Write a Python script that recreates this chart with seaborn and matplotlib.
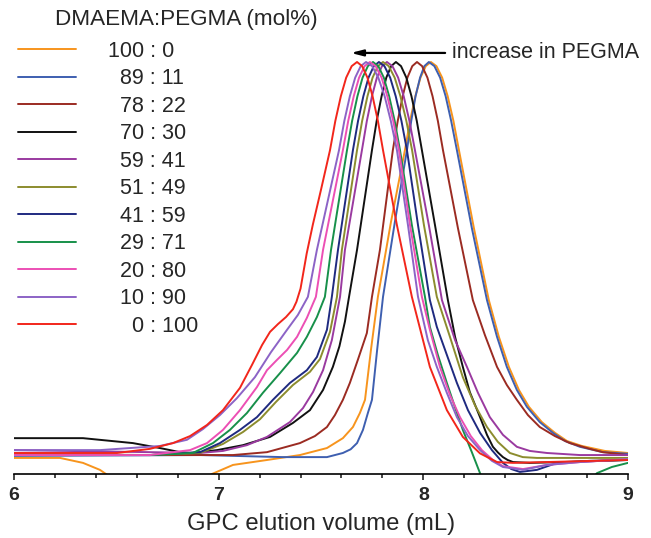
import numpy as np
import pandas as pd
import seaborn as sns
import matplotlib
matplotlib.use("Agg")
import matplotlib.pyplot as plt

# DMAEMA:PEGMA feed ratios (mol%) and GPC traces
ratios = ["100 : 0", "89 : 11", "78 : 22", "70 : 30", "59 : 41", "51 : 49",
          "41 : 59", "29 : 71", "20 : 80", "10 : 90", "0 : 100"]
colors = ["#f7941d", "#3e5fb0", "#9b2b22", "#111111", "#9a3aa0", "#8c8c2e",
          "#1f2a80", "#17904a", "#ec4fb4", "#8c63c6", "#f2261b"]

vol_100_0 = [6.0, 6.225, 6.337, 6.42, 6.493, 6.713, 6.884, 6.967, 7.07, 7.236, 7.397, 7.529, 7.607, 7.656, 7.69, 7.715,
             7.744, 7.778, 7.842, 7.91, 7.935, 7.961, 7.986, 8.012, 8.037, 8.064, 8.092, 8.119, 8.147, 8.174,
             8.247, 8.32, 8.369, 8.418, 8.467, 8.516, 8.579, 8.643, 8.702, 8.775, 8.887, 9.0]
int_100_0 = [.039, .039, .027, .010, -.015, -.063, -.034, .0, .022, .034, .046, .063, .087, .114, .148, .18,
             .301, .43, .612, .786, .857, .917, .962, .990, 1.0, .990, .962, .917, .857, .786,
             .597, .422, .333, .26, .204, .163, .126, .10, .08, .068, .056, .051]

vol_89_11 = [6.0, 6.909, 7.314, 7.529, 7.607, 7.645, 7.676, 7.705, 7.729, 7.749, 7.774, 7.803, 7.861, 7.92, 7.941,
             7.962, 7.984, 8.005, 8.027, 8.054, 8.082, 8.109, 8.136, 8.164, 8.237, 8.311, 8.36, 8.408, 8.457,
             8.506, 8.569, 8.633, 8.692, 8.765, 8.877, 9.0]
int_89_11 = [.044, .046, .041, .041, .051, .06, .075, .107, .148, .18, .30, .43, .612, .786, .857,
             .917, .962, .990, 1.0, .990, .962, .917, .857, .786, .597, .422, .333, .26, .204,
             .163, .126, .10, .08, .066, .053, .049]

vol_78_22 = [6.0, 6.909, 7.07, 7.236, 7.397, 7.47, 7.529, 7.568, 7.607, 7.641, 7.68, 7.724, 7.749, 7.788, 7.851,
             7.875, 7.899, 7.922, 7.946, 7.969, 7.994, 8.02, 8.045, 8.071, 8.096, 8.169, 8.242, 8.301, 8.36,
             8.408, 8.457, 8.511, 8.569, 8.643, 8.716, 8.814, 8.877, 9.0]
int_78_22 = [.046, .046, .046, .053, .075, .092, .114, .143, .18, .221, .277, .342, .43, .544, .786,
             .857, .917, .962, .990, 1.0, .990, .962, .917, .857, .786, .597, .422, .337, .26,
             .216, .18, .143, .114, .092, .075, .061, .053, .046]

vol_70_30 = [6.0, 6.337, 6.581, 6.713, 6.811, 6.86, 6.909, 6.992, 7.119, 7.251, 7.363, 7.446, 7.51, 7.558, 7.59,
             7.617, 7.637, 7.676, 7.749, 7.772, 7.796, 7.819, 7.843, 7.866, 7.891, 7.917, 7.942, 7.968, 7.993,
             8.057, 8.12, 8.155, 8.193, 8.227, 8.277, 8.311, 8.34, 8.365, 8.389, 8.412, 8.438, 8.52, 8.682, 9.0]
int_70_30 = [.087, .087, .075, .063, .053, .051, .053, .058, .07, .09, .124, .155, .204, .26, .31,
             .37, .43, .544, .786, .857, .917, .962, .990, 1.0, .990, .962, .917, .857, .786,
             .604, .422, .333, .26, .199, .138, .095, .066, .052, .041, .034, .029, .027, .029, .034]

vol_59_41 = [6.0, 6.664, 6.909, 7.021, 7.138, 7.236, 7.348, 7.412, 7.461, 7.51, 7.553, 7.593, 7.617, 7.70, 7.724,
             7.749, 7.773, 7.798, 7.822, 7.849, 7.877, 7.904, 7.932, 7.959, 8.027, 8.091, 8.155, 8.213, 8.267,
             8.325, 8.389, 8.457, 8.52, 8.604, 8.765, 9.0]
int_59_41 = [.058, .053, .051, .056, .07, .09, .126, .16, .199, .252, .325, .43, .544, .786, .857,
             .917, .962, .990, 1.0, .990, .962, .917, .857, .786, .604, .422, .325, .26, .197,
             .138, .095, .066, .056, .051, .046, .046]

vol_51_49 = [6.0, 6.664, 6.909, 7.021, 7.119, 7.202, 7.28, 7.363, 7.446, 7.495, 7.544, 7.578, 7.602, 7.676, 7.701,
             7.727, 7.752, 7.778, 7.803, 7.831, 7.86, 7.888, 7.917, 7.945, 8.003, 8.066, 8.13, 8.193, 8.252,
             8.311, 8.364, 8.423, 8.486, 8.555, 9.0]
int_51_49 = [.049, .046, .051, .073, .102, .133, .175, .216, .248, .279, .345, .43, .544, .786, .857,
             .917, .962, .990, 1.0, .990, .962, .917, .857, .786, .604, .43, .333, .235, .167,
             .114, .078, .051, .041, .039, .039]

vol_41_59 = [6.0, 6.664, 6.909, 7.006, 7.104, 7.187, 7.265, 7.348, 7.431, 7.48, 7.529, 7.553, 7.583, 7.656, 7.681,
             7.707, 7.732, 7.758, 7.783, 7.81, 7.838, 7.865, 7.893, 7.92, 7.974, 8.032, 8.066, 8.115, 8.164,
             8.218, 8.277, 8.335, 8.389, 8.43, 8.472, 8.555, 8.653, 8.814, 9.0]
int_41_59 = [.046, .046, .053, .075, .107, .138, .18, .221, .252, .284, .35, .43, .544, .786, .857,
             .917, .962, .990, 1.0, .990, .962, .917, .857, .786, .604, .422, .357, .289, .221,
             .155, .10, .058, .027, .012, .005, .01, .027, .032, .034]

vol_29_71 = [6.0, 6.664, 6.874, 6.972, 7.055, 7.138, 7.216, 7.30, 7.383, 7.431, 7.48, 7.519, 7.549, 7.627, 7.652,
             7.678, 7.703, 7.729, 7.754, 7.78, 7.807, 7.833, 7.86, 7.886, 7.944, 8.008, 8.032, 8.071, 8.115,
             8.154, 8.193, 8.237, 8.277, 8.325, 8.472, 8.667, 8.789, 8.848, 8.921, 9.0]
int_29_71 = [.046, .046, .051, .075, .107, .148, .197, .245, .294, .333, .381, .43, .544, .786, .857,
             .917, .962, .990, 1.0, .990, .962, .917, .857, .786, .604, .43, .357, .289, .221,
             .163, .107, .053, .002, -.051, -.087, -.075, -.034, .002, .017, .027]

vol_20_80 = [6.0, 6.664, 6.86, 6.943, 7.021, 7.104, 7.187, 7.236, 7.285, 7.334, 7.383, 7.431, 7.475, 7.51, 7.607,
             7.633, 7.66, 7.686, 7.713, 7.739, 7.767, 7.796, 7.824, 7.853, 7.881, 7.935, 7.993, 8.032, 8.081,
             8.13, 8.179, 8.232, 8.286, 8.34, 8.389, 8.487, 8.604, 8.765, 9.0]
int_20_80 = [.046, .046, .058, .075, .107, .155, .211, .252, .277, .301, .333, .379, .43, .544, .786,
             .857, .917, .962, .990, 1.0, .990, .962, .917, .857, .786, .604, .43, .35, .26,
             .192, .138, .092, .058, .034, .019, .012, .022, .029, .036]

vol_10_90 = [6.0, 6.42, 6.713, 6.845, 6.923, 7.006, 7.089, 7.177, 7.256, 7.334, 7.387, 7.436, 7.48, 7.588, 7.614,
             7.641, 7.667, 7.694, 7.72, 7.75, 7.78, 7.811, 7.841, 7.871, 7.925, 7.974, 8.022, 8.066, 8.115,
             8.164, 8.218, 8.277, 8.335, 8.389, 8.487, 8.604, 8.765, 9.0]
int_10_90 = [.058, .058, .068, .083, .109, .143, .184, .235, .296, .35, .386, .43, .544, .786, .857,
             .917, .962, .990, 1.0, .990, .962, .917, .857, .786, .604, .43, .325, .26, .197,
             .138, .092, .058, .032, .017, .01, .022, .029, .036]

vol_0_100 = [6.0, 6.503, 6.664, 6.777, 6.86, 6.943, 7.021, 7.104, 7.163, 7.212, 7.251, 7.29, 7.329, 7.363, 7.38,
             7.40, 7.43, 7.46, 7.50, 7.544, 7.57, 7.597, 7.623, 7.65, 7.676, 7.701, 7.727, 7.752, 7.778,
             7.803, 7.871, 7.944, 8.032, 8.115, 8.193, 8.277, 8.36, 8.438, 8.604, 9.0]
int_0_100 = [.051, .051, .061, .075, .092, .119, .155, .209, .265, .313, .345, .364, .381, .40, .418,
             .45, .535, .605, .69, .786, .857, .917, .962, .990, 1.0, .990, .962, .917, .857,
             .786, .604, .43, .26, .155, .09, .05, .029, .027, .029, .034]

vols = [vol_100_0, vol_89_11, vol_78_22, vol_70_30, vol_59_41, vol_51_49,
        vol_41_59, vol_29_71, vol_20_80, vol_10_90, vol_0_100]
ints = [int_100_0, int_89_11, int_78_22, int_70_30, int_59_41, int_51_49,
        int_41_59, int_29_71, int_20_80, int_10_90, int_0_100]

frames = []
for r, v, i in zip(ratios, vols, ints):
    frames.append(pd.DataFrame({"vol": v, "intensity": i, "ratio": r}))
df = pd.concat(frames, ignore_index=True)

sns.set_style("white")
plt.rcParams["font.family"] = ["Liberation Sans", "DejaVu Sans"]

fig = plt.figure(figsize=(6.51, 5.38), dpi=100)
ax = fig.add_axes([14 / 651, 1 - 474 / 538, 614 / 651, 474 / 538])

sns.lineplot(data=df, x="vol", y="intensity", hue="ratio", hue_order=ratios,
             palette=colors, estimator=None, sort=False, lw=1.4, legend=False, ax=ax)

ax.set_xlim(6, 9)
ax.set_ylim(0, 474 / 412)
ax.set_xticks([6, 7, 8, 9])
ax.set_xticks(np.arange(6, 9.01, 0.2), minor=True)
ax.set_yticks([])
for s in ["left", "top", "right"]:
    ax.spines[s].set_visible(False)
ax.spines["bottom"].set_linewidth(1.2)
ax.spines["bottom"].set_color("black")
ax.tick_params(axis="x", which="major", direction="out", length=4.5, width=1.2,
               labelsize=14, pad=5, bottom=True)
ax.tick_params(axis="x", which="minor", direction="out", length=3, width=1.2, bottom=True)
for lab in ax.get_xticklabels():
    lab.set_fontweight("bold")
ax.set_xlabel("GPC elution volume (mL)", fontsize=17.2, labelpad=6)
ax.set_ylabel("")

# legend with colons lined up (figure spaces pad the left part)
labels = []
for r in ratios:
    left, right = r.split(" : ")
    labels.append("\u2007" * (3 - len(left)) + left + " : " + right)
ax.legend(ax.lines[:len(ratios)], labels, loc="upper left",
          bbox_to_anchor=(18 / 651, 1 - 41 / 538), bbox_transform=fig.transFigure,
          frameon=False, fontsize=15.5, handlelength=2.7, handletextpad=1.5,
          labelspacing=0.3, borderpad=0, borderaxespad=0)
fig.text(55 / 651, 1 - 19 / 538, "DMAEMA:PEGMA (mol%)", fontsize=16.2, va="center", ha="left")

ax.annotate("", xy=(7.632, 1.022), xytext=(8.12, 1.022),
            arrowprops=dict(arrowstyle="-|>,head_length=0.7,head_width=0.18", lw=1.6, color="black"))
ax.text(8.14, 1.022, "increase in PEGMA", fontsize=15.5, va="center", ha="left")

fig.savefig("out.png", dpi=100)
